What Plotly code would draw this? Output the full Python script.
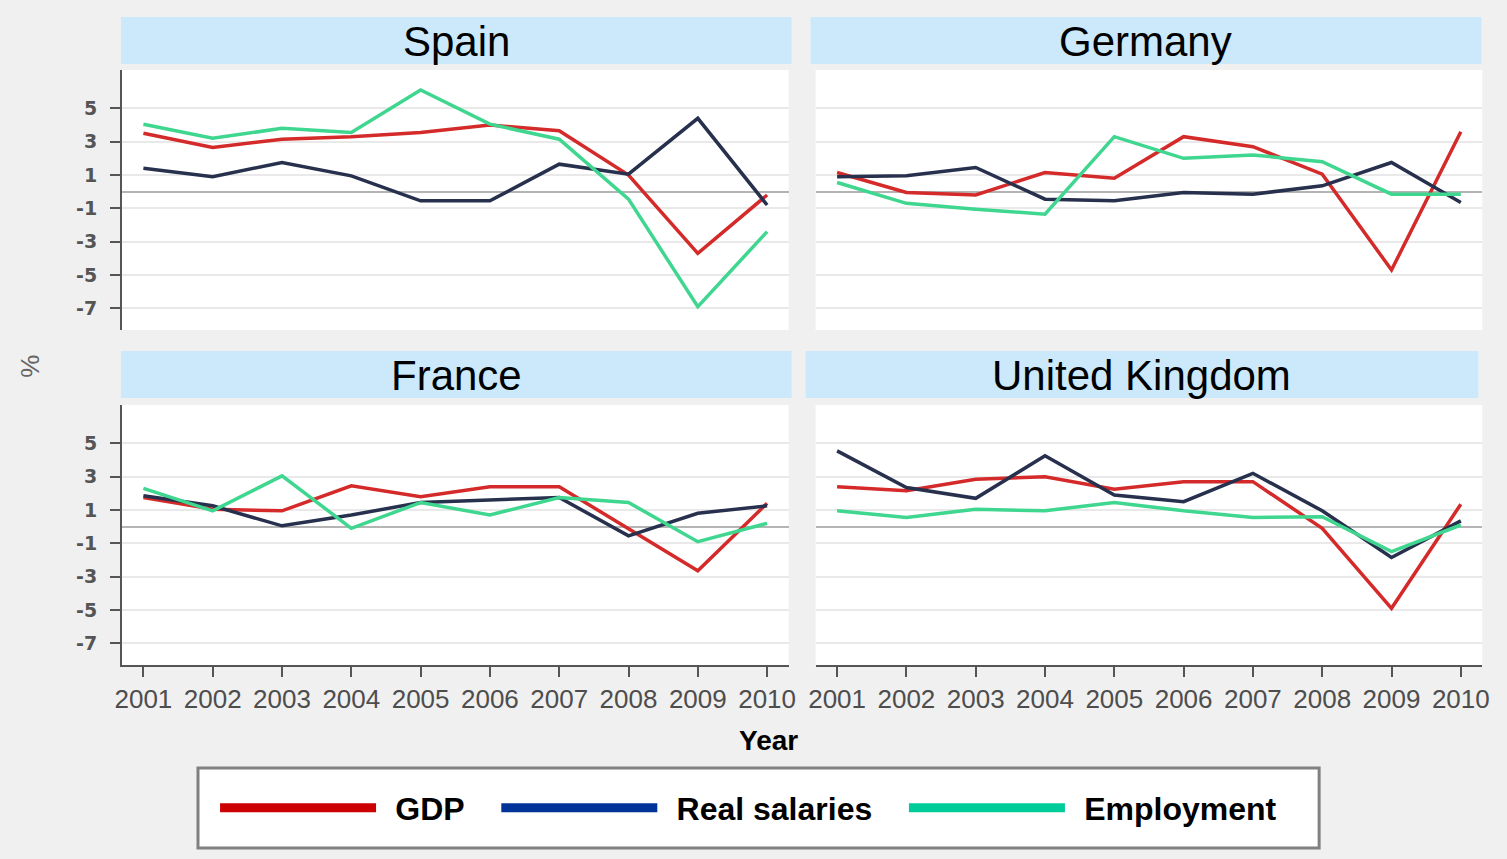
import plotly.graph_objects as go

W, H = 1507, 859

years = list(range(2001, 2011))
countries = ["Spain", "Germany", "France", "United Kingdom"]
series_names = ["GDP", "Real salaries", "Employment"]

spain_gdp = [3.5, 2.65, 3.15, 3.3, 3.55, 4.0, 3.65, 1.0, -3.7, -0.2]
spain_salaries = [1.4, 0.9, 1.75, 0.95, -0.55, -0.55, 1.65, 1.05, 4.4, -0.8]
spain_employment = [4.05, 3.2, 3.8, 3.55, 6.1, 4.05, 3.15, -0.45, -6.9, -2.4]

germany_gdp = [1.15, -0.05, -0.2, 1.15, 0.8, 3.3, 2.7, 1.05, -4.7, 3.6]
germany_salaries = [0.9, 0.95, 1.45, -0.45, -0.55, -0.05, -0.15, 0.35, 1.75, -0.65]
germany_employment = [0.55, -0.7, -1.05, -1.35, 3.3, 2.0, 2.2, 1.8, -0.15, -0.15]

france_gdp = [1.75, 1.05, 0.95, 2.45, 1.8, 2.4, 2.4, -0.1, -2.65, 1.4]
france_salaries = [1.85, 1.25, 0.05, 0.7, 1.45, 1.6, 1.75, -0.55, 0.8, 1.25]
france_employment = [2.3, 0.95, 3.05, -0.1, 1.45, 0.7, 1.75, 1.45, -0.9, 0.2]

uk_gdp = [2.4, 2.15, 2.85, 3.0, 2.25, 2.7, 2.7, -0.1, -4.9, 1.35]
uk_salaries = [4.55, 2.35, 1.7, 4.25, 1.9, 1.5, 3.2, 0.95, -1.85, 0.35]
uk_employment = [0.95, 0.55, 1.05, 0.95, 1.45, 0.95, 0.55, 0.6, -1.5, 0.1]

data = {
    "Spain": [spain_gdp, spain_salaries, spain_employment],
    "Germany": [germany_gdp, germany_salaries, germany_employment],
    "France": [france_gdp, france_salaries, france_employment],
    "United Kingdom": [uk_gdp, uk_salaries, uk_employment],
}

y_ticks = [5, 3, 1, -1, -3, -5, -7]
y_tick_labels = ["5", "3", "1", "-1", "-3", "-5", "-7"]
x_tick_labels = [str(y) for y in years]

line_colors = ["#d42a2a", "#27304d", "#3fd690"]
legend_colors = ["#cc0000", "#003399", "#00cc99"]

# panel pixel boxes (left, right, top, bottom) of plot areas and strips
panels = {
    "Spain": dict(ax="", plot=(122, 788, 70, 330), strip=(121, 791, 17, 64)),
    "Germany": dict(ax="2", plot=(815, 1481, 70, 330), strip=(810, 1480, 17, 64)),
    "France": dict(ax="3", plot=(122, 788, 405, 665), strip=(121, 791, 351, 398)),
    "United Kingdom": dict(ax="4", plot=(815, 1481, 405, 665), strip=(805, 1477, 351, 398)),
}

# the captured page appears slightly squeezed horizontally; compensate
SX, OX = 0.9897, 7.2

def px_x(p):
    return ((p - OX) / SX) / W

def px_y(p):
    return 1 - p / H

fig = go.Figure()

for c in countries:
    info = panels[c]
    ax = info["ax"]
    for name, vals, col in zip(series_names, data[c], line_colors):
        fig.add_trace(go.Scatter(
            x=years, y=vals, mode="lines", name=name,
            line=dict(color=col, width=3.5),
            xaxis="x" + ax, yaxis="y" + ax, showlegend=False,
            hoverinfo="skip",
        ))

# legend-only entries
NB = "\u00a0"
HS = "\u200a"
for i, (name, col) in enumerate(zip(series_names, legend_colors)):
    label = NB + HS + HS + name + (NB * 3 if i < len(series_names) - 1 else "")
    fig.add_trace(go.Scatter(
        x=[None], y=[None], mode="lines", name=label,
        line=dict(color=col, width=9), showlegend=True,
        xaxis="x", yaxis="y",
    ))

layout = dict(
    width=W, height=H,
    margin=dict(l=0, r=0, t=0, b=0),
    paper_bgcolor="#f0f0f0",
    plot_bgcolor="#ffffff",
    showlegend=True,
    legend=dict(
        orientation="h", x=px_x(748), xanchor="center", y=px_y(808), yanchor="middle",
        bgcolor="rgba(0,0,0,0)", borderwidth=0,
        font=dict(family="Liberation Sans, Arial", size=32, color="#000000", weight="bold"),
        itemwidth=156,
    ),
)

shapes = []
annotations = []

for c in countries:
    info = panels[c]
    ax = info["ax"]
    l, r, t, b = info["plot"]
    is_left = c in ("Spain", "France")
    is_bottom = c in ("France", "United Kingdom")
    layout["xaxis" + ax] = dict(
        domain=[px_x(l), px_x(r)],
        anchor="y" + ax,
        range=[2000.69, 2010.31],
        tickmode="array", tickvals=years, ticktext=x_tick_labels,
        showticklabels=is_bottom,
        ticks="outside" if is_bottom else "",
        ticklen=10, tickwidth=2, tickcolor="#555555",
        showline=is_bottom, linecolor="#555555", linewidth=2,
        showgrid=False, zeroline=False,
        tickfont=dict(family="Liberation Sans, Arial", size=26, color="#4d4d4d"),
        fixedrange=True,
    )
    layout["yaxis" + ax] = dict(
        domain=[px_y(b), px_y(t)],
        anchor="x" + ax,
        range=[-8.3, 7.3],
        tickmode="array", tickvals=y_ticks, ticktext=y_tick_labels,
        showticklabels=is_left,
        ticks="outside" if is_left else "",
        ticklen=10, tickwidth=2, tickcolor="#555555",
        ticklabelstandoff=9,
        showline=is_left, linecolor="#555555", linewidth=2,
        showgrid=True, gridcolor="#e9e9e9", gridwidth=2,
        zeroline=True, zerolinecolor="#b4b4b4", zerolinewidth=2,
        tickfont=dict(family="DejaVu Sans, Verdana", size=19, color="#555555", weight="bold"),
        fixedrange=True,
    )
    sl, sr, st, sb = info["strip"]
    shapes.append(dict(
        type="rect", xref="paper", yref="paper",
        x0=px_x(sl), x1=px_x(sr), y0=px_y(sb), y1=px_y(st),
        fillcolor="#cbe9fb", line=dict(width=0), layer="below",
    ))
    annotations.append(dict(
        text=c, xref="paper", yref="paper",
        x=px_x((sl + sr) / 2), y=px_y((st + sb) / 2 + 1),
        xanchor="center", yanchor="middle", showarrow=False,
        font=dict(family="Liberation Sans, Arial", size=42, color="#000000"),
    ))

# legend box
shapes.append(dict(
    type="rect", xref="paper", yref="paper",
    x0=px_x(198), x1=px_x(1318), y0=px_y(848), y1=px_y(768),
    fillcolor="#ffffff", line=dict(color="#808080", width=3), layer="below",
))

annotations.append(dict(
    text="<b>Year</b>", xref="paper", yref="paper",
    x=px_x(768), y=px_y(740), xanchor="center", yanchor="middle", showarrow=False,
    font=dict(family="Liberation Sans, Arial", size=28, color="#000000"),
))
annotations.append(dict(
    text="%", xref="paper", yref="paper",
    x=px_x(30), y=px_y(366), xanchor="center", yanchor="middle", showarrow=False,
    textangle=-90,
    font=dict(family="Liberation Sans, Arial", size=26, color="#666666"),
))

layout["shapes"] = shapes
layout["annotations"] = annotations
fig.update_layout(**layout)

fig.write_html(
    "out.html",
    config={"displayModeBar": False},
    post_script=(
        "document.documentElement.style.margin='0';"
        "document.documentElement.style.padding='0';"
        "document.documentElement.style.overflow='hidden';"
        "document.body.style.margin='0';document.body.style.padding='0';"
        "document.body.style.overflow='hidden';document.body.style.background='#f0f0f0';"
    ),
)
